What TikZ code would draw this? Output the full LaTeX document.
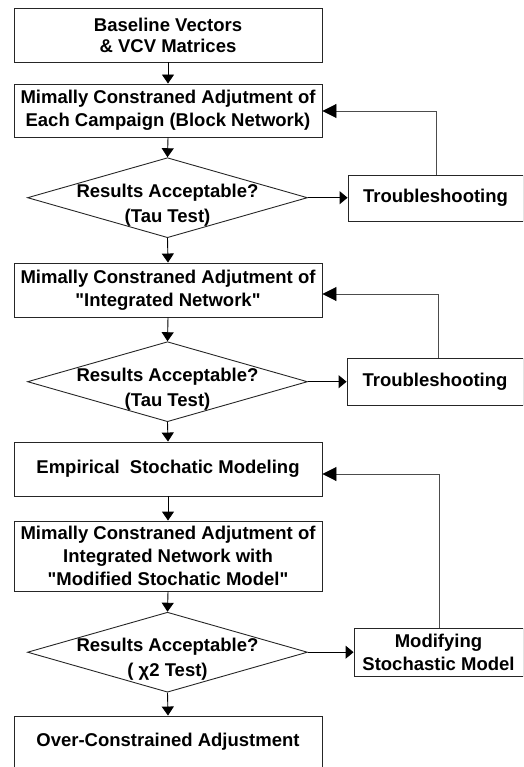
\documentclass[tikz,border=0pt]{standalone}
\usepackage{fontspec}
\setmainfont{Liberation Sans}
\usetikzlibrary{arrows.meta,shapes.geometric,calc}
\newcommand\chartfont{\fontsize{18.5}{23}\selectfont\bfseries}
\newcommand\diafont{\fontsize{18.5}{25}\selectfont\bfseries}
\begin{document}
\begin{tikzpicture}[x=1pt,y=-1pt,
  box/.style={draw=black!85, line width=0.9pt, minimum width=308pt, inner sep=0pt, align=center, font=\chartfont},
  rbox/.style={draw=black!85, line width=0.9pt, inner sep=0pt, align=center, font=\chartfont},
  dia/.style={draw=black!85, line width=0.9pt, diamond, minimum width=280pt, minimum height=80pt, inner sep=0pt},
  dtxt/.style={inner sep=0pt, align=center, font=\diafont},
  arr/.style={draw=black, line width=0.9pt, -{Triangle[length=9pt,width=12pt]}},
  rarr/.style={draw=black, line width=0.9pt, -{Triangle[length=8pt,width=13pt]}},
  fb/.style={draw=black!70, line width=0.9pt, -{Triangle[length=14pt,width=14pt,color=black]}}]
\useasboundingbox (0,0) rectangle (523,767);
\clip (0,0) rectangle (523,767);
% main column
\node[box, minimum height=54pt] (b1) at (168,35) {Baseline Vectors\\[-2pt]\& VCV Matrices};
\node[box, minimum height=53pt] (b2) at (168,110.5) {Mimally Constraned Adjutment of\\Each Campaign (Block Network)};
\node[dia] (d1) at (167.5,197.7) {};
\node[dtxt] (d1t) at ($(d1.center)+(0,7.5)$) {Results Acceptable?\\(Tau Test)};
\node[box, minimum height=54pt] (b3) at (168,290) {Mimally Constraned Adjutment of\\\textquotedbl Integrated Network\textquotedbl};
\node[dia] (d2) at (167.5,381.7) {};
\node[dtxt] (d2t) at ($(d2.center)+(0,7.5)$) {Results Acceptable?\\(Tau Test)};
\node[box, minimum height=54pt] (b4) at (168,469) {Empirical\ \ Stochatic Modeling};
\node[box, minimum height=70pt] (b5) at (168,556) {Mimally Constraned Adjutment of\\Integrated Network with\\\textquotedbl Modified Stochatic Model\textquotedbl};
\node[dia] (d3) at (167.5,652.2) {};
\node[dtxt] (d3t) at ($(d3.center)+(0,7.5)$) {Results Acceptable?\\( χ2 Test)};
\node[box, minimum height=52pt] (b6) at (168,742) {Over-Constrained Adjustment};
% right column
\node[rbox, minimum width=175pt, minimum height=46pt] (r1) at (435.5,198) {Troubleshooting};
\node[rbox, minimum width=176pt, minimum height=47pt] (r2) at (435,381.5) {Troubleshooting};
\node[rbox, minimum width=169pt, minimum height=48pt] (r3) at (438.5,652) {Modifying\\Stochastic Model};
% feedback corners
\coordinate (f1) at (436,111);
\coordinate (f2) at (438,294);
\coordinate (f3) at (439,474);
% vertical flow
\draw[arr] (b1.south) -- (b2.north);
\draw[arr] (b2.south) -- (d1.north);
\draw[arr] (d1.south) -- (b3.north);
\draw[arr] (b3.south) -- (d2.north);
\draw[arr] (d2.south) -- (b4.north);
\draw[arr] (b4.south) -- (b5.north);
\draw[arr] (b5.south) -- (d3.north);
\draw[arr] (d3.south) -- (b6.north);
% to right boxes
\draw[rarr] (d1.east) -- (d1.east -| r1.west);
\draw[rarr] (d2.east) -- (d2.east -| r2.west);
\draw[rarr] (d3.east) -- (d3.east -| r3.west);
% feedback loops
\draw[fb] (r1.north -| f1) -- (f1) -- (b2.east |- f1);
\draw[fb] (r2.north -| f2) -- (f2) -- (b3.east |- f2);
\draw[fb] (r3.north -| f3) -- (f3) -- (b4.east |- f3);
\end{tikzpicture}
\end{document}
